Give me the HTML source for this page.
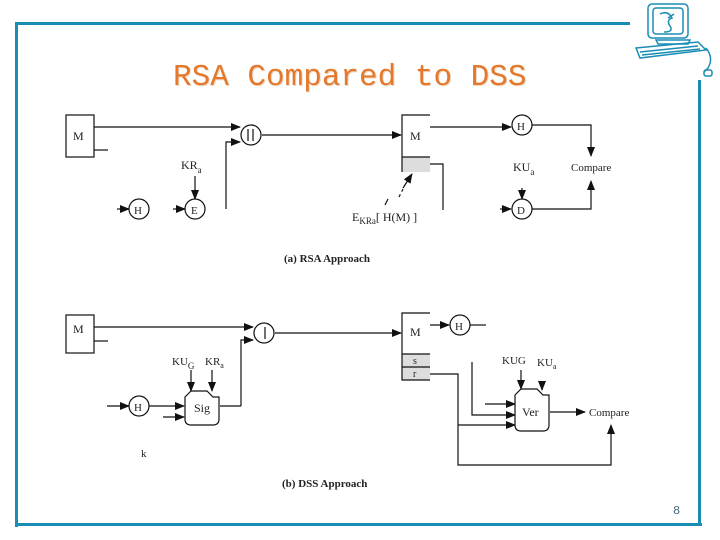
<!DOCTYPE html>
<html><head><meta charset="utf-8"><style>
html,body{margin:0;padding:0;background:#fff;}
svg{display:block;}
text{font-family:"Liberation Serif",serif;fill:#222;}
</style></head><body>
<svg width="720" height="540" viewBox="0 0 720 540" xmlns="http://www.w3.org/2000/svg">
<defs>
<marker id="a" markerWidth="10" markerHeight="8" refX="9" refY="4" orient="auto" markerUnits="userSpaceOnUse"><path d="M0,0 L10,4 L0,8 Z" fill="#111"/></marker>
</defs>
<!-- frame -->
<g fill="#1a8db5">
<rect x="15" y="22" width="615" height="3"/>
<rect x="15" y="22" width="3" height="505"/>
<rect x="15" y="523" width="687" height="3"/>
<rect x="698" y="80" width="3" height="446"/>
</g>
<!-- computer icon -->
<g stroke="#1a8db5" fill="none" stroke-width="1.5">
<rect x="648" y="4" width="40" height="34" rx="4"/>
<rect x="653" y="8" width="30" height="26" rx="3"/>
<path d="M660,14 q8,-4 12,4 q-6,2 -2,8 q4,6 -6,6 M668,18 l6,-4"/>
<path d="M656,40 h34 l-2,4 h-30z"/>
<path d="M636,48 l62,-6 l8,8 l-66,8 z"/>
<path d="M640,52 l58,-6 M642,55 l58,-6"/>
<path d="M706,48 q8,10 2,20 l-4,4"/>
<rect x="704" y="70" width="8" height="6" rx="2"/>
</g>
<!-- title -->
<text x="173" y="85" style="font-family:'Liberation Mono',monospace;font-size:31px;fill:#ecd8c4" dx="1" dy="1">RSA Compared to DSS</text>
<text x="173" y="85" style="font-family:'Liberation Mono',monospace;font-size:31px;fill:#e4782c">RSA Compared to DSS</text>

<g stroke="#111" stroke-width="1.2" fill="none">
<!-- (a) -->
<rect x="66" y="115" width="28" height="42"/>
<line x1="94" y1="127" x2="240" y2="127" marker-end="url(#a)"/>
<line x1="94" y1="150" x2="108" y2="150"/>
<polyline points="226,209 226,142 240,142" marker-end="url(#a)"/>
<circle cx="251" cy="135" r="10"/>
<line x1="248" y1="129" x2="248" y2="141"/><line x1="253" y1="129" x2="253" y2="141"/>
<line x1="262" y1="135" x2="401" y2="135" marker-end="url(#a)"/>
<rect x="402" y="157" width="28" height="15" fill="#ddd" stroke="none"/>
<polyline points="430,115 402,115 402,172"/>
<line x1="402" y1="157" x2="430" y2="157"/>
<polyline points="430,164 443,164 443,210"/>
<line x1="399" y1="197" x2="403" y2="189" stroke-dasharray="3,3"/>
<line x1="403" y1="188" x2="412" y2="174" marker-end="url(#a)"/>
<line x1="385" y1="205" x2="388" y2="199"/>
<line x1="430" y1="127" x2="511" y2="127" marker-end="url(#a)"/>
<circle cx="522" cy="125" r="10"/>
<polyline points="532,125 591,125 591,156" marker-end="url(#a)"/>
<circle cx="522" cy="209" r="10"/>
<polyline points="532,209 591,209 591,181" marker-end="url(#a)"/>
<line x1="500" y1="209" x2="511" y2="209" marker-end="url(#a)"/>
<line x1="522" y1="188" x2="522" y2="199" marker-end="url(#a)"/>
<circle cx="139" cy="209" r="10"/>
<line x1="117" y1="209" x2="129" y2="209" marker-end="url(#a)"/>
<circle cx="195" cy="209" r="10"/>
<line x1="173" y1="209" x2="185" y2="209" marker-end="url(#a)"/>
<line x1="195" y1="176" x2="195" y2="199" marker-end="url(#a)"/>

<!-- (b) -->
<rect x="66" y="315" width="28" height="38"/>
<line x1="94" y1="327" x2="253" y2="327" marker-end="url(#a)"/>
<line x1="94" y1="341" x2="108" y2="341"/>
<polyline points="241,406 241,340 253,340" marker-end="url(#a)"/>
<circle cx="264" cy="333" r="10"/>
<line x1="265" y1="327" x2="265" y2="339"/>
<line x1="275" y1="333" x2="401" y2="333" marker-end="url(#a)"/>
<rect x="402" y="354" width="28" height="26" fill="#ddd" stroke="none"/>
<polyline points="430,313 402,313 402,380 430,380"/>
<line x1="402" y1="354" x2="430" y2="354"/>
<line x1="402" y1="367" x2="430" y2="367"/>
<line x1="430" y1="325" x2="449" y2="325" marker-end="url(#a)"/>
<circle cx="460" cy="325" r="10"/>
<line x1="470" y1="325" x2="486" y2="325"/>
<circle cx="139" cy="406" r="10"/>
<line x1="107" y1="406" x2="129" y2="406" marker-end="url(#a)"/>
<line x1="149" y1="406" x2="184" y2="406" marker-end="url(#a)"/>
<line x1="163" y1="417" x2="184" y2="417" marker-end="url(#a)"/>
<path d="M185,397 l6,-6 h16 l6,6 l6,0 v22 q0,6 -6,6 h-22 q-6,0 -6,-6 z"/>
<line x1="191" y1="370" x2="191" y2="391" marker-end="url(#a)"/>
<line x1="212" y1="370" x2="212" y2="391" marker-end="url(#a)"/>
<line x1="220" y1="406" x2="241" y2="406"/>
<path d="M515,395 l6,-6 h16 l6,6 l6,0 v30 q0,6 -6,6 h-22 q-6,0 -6,-6 z"/>
<line x1="521" y1="370" x2="521" y2="389" marker-end="url(#a)"/>
<line x1="542" y1="383" x2="542" y2="390" marker-end="url(#a)"/>
<line x1="485" y1="404" x2="515" y2="404" marker-end="url(#a)"/>
<polyline points="472,362 472,415 515,415" marker-end="url(#a)"/>
<polyline points="430,374 458,374 458,465 611,465 611,425" marker-end="url(#a)"/>
<line x1="458" y1="425" x2="515" y2="425" marker-end="url(#a)"/>
<line x1="550" y1="412" x2="585" y2="412" marker-end="url(#a)"/>
</g>

<g font-size="12">
<text x="73" y="140">M</text>
<text x="410" y="140">M</text>
<text x="517" y="130" font-size="11">H</text>
<text x="517" y="214" font-size="11">D</text>
<text x="134" y="214" font-size="11">H</text>
<text x="191" y="214" font-size="11">E</text>
<text x="181" y="169">KR<tspan font-size="9" dy="4">a</tspan></text>
<text x="513" y="171">KU<tspan font-size="9" dy="4">a</tspan></text>
<text x="571" y="171" font-size="11">Compare</text>
<text x="352" y="221">E<tspan font-size="9" dy="3">KRa</tspan><tspan dy="-3">[ H(M) ]</tspan></text>
<text x="284" y="262" font-size="11" font-weight="bold">(a) RSA Approach</text>

<text x="73" y="333">M</text>
<text x="410" y="336">M</text>
<text x="413" y="364" font-size="10">s</text>
<text x="413" y="377" font-size="10">r</text>
<text x="455" y="330" font-size="11">H</text>
<text x="134" y="411" font-size="11">H</text>
<text x="194" y="412">Sig</text>
<text x="172" y="365" font-size="11">KU<tspan font-size="9" dy="4">G</tspan></text>
<text x="205" y="365" font-size="11">KR<tspan font-size="8" dy="3">a</tspan></text>
<text x="141" y="457" font-size="11">k</text>
<text x="522" y="416">Ver</text>
<text x="502" y="364" font-size="11">KU<tspan font-size="11">G</tspan></text>
<text x="537" y="366" font-size="11">KU<tspan font-size="8" dy="3">a</tspan></text>
<text x="589" y="416" font-size="11">Compare</text>
<text x="282" y="487" font-size="11" font-weight="bold">(b) DSS Approach</text>
</g>
<text x="673" y="514" style="font-family:'Liberation Mono',monospace;font-size:12px;fill:#4a6a80">8</text>
</svg>
</body></html>
